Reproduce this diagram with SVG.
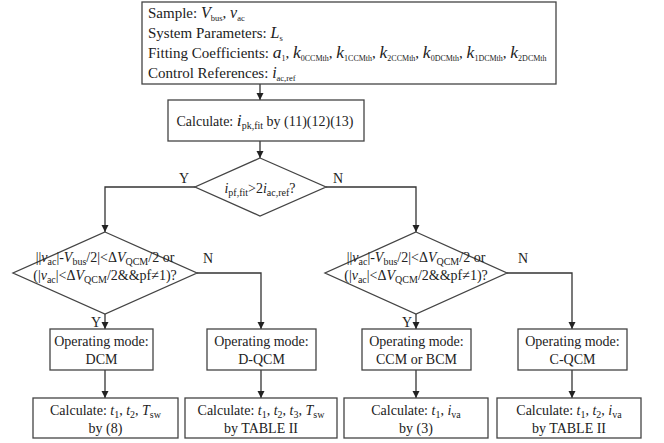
<svg xmlns="http://www.w3.org/2000/svg" width="664" height="443" viewBox="0 0 664 443">
<defs>
<marker id="ah" viewBox="0 0 10 10" refX="10" refY="5" markerWidth="7" markerHeight="8" markerUnits="userSpaceOnUse" orient="auto">
<path d="M0,0 L10,5 L0,10 Z" fill="#222"/>
</marker>
<style>
.box{fill:#fff;stroke:#444;stroke-width:1.3}
.t{font-family:"Liberation Serif","Times New Roman",serif;font-size:14px;fill:#222}
.h{font-size:15px}
.m{text-anchor:middle}
.i{font-style:italic}
.iv{font-size:16px}
.b{font-size:17.5px}
.s{font-size:10px}
.ss{font-size:8.5px}
.sx{font-size:8px}
.ca{fill:none;stroke:#333;stroke-width:1.3;marker-end:url(#ah)}
</style>
</defs>
<rect width="664" height="443" fill="#fff"/>

<g id="connectors">
<path class="ca" d="M260,84 V100"/>
<path class="ca" d="M260,141 V158"/>
<path class="ca" d="M195,187 H105 V232"/>
<path class="ca" d="M326,187 H416 V232"/>
<path class="ca" d="M197,273 H261 V329"/>
<path class="ca" d="M507,273 H572 V329"/>
<path class="ca" d="M105,314 V329"/>
<path class="ca" d="M416,314 V329"/>
<path class="ca" d="M105,370 V398"/>
<path class="ca" d="M261,370 V398"/>
<path class="ca" d="M416,370 V398"/>
<path class="ca" d="M572,370 V398"/>
<text class="t" x="179" y="183">Y</text>
<text class="t" x="333" y="183">N</text>
<text class="t" x="203" y="263">N</text>
<text class="t" x="518" y="263">N</text>
<text class="t" x="91" y="327">Y</text>
<text class="t" x="402" y="327">Y</text>
</g>

<g id="inputs">
<rect class="box" x="142" y="2" width="414" height="82"/>
<text class="t h" x="148" y="18">Sample: <tspan class="i iv">V</tspan><tspan class="ss" dy="3">bus</tspan><tspan dy="-3">, </tspan><tspan class="i iv">v</tspan><tspan class="ss" dy="3">ac</tspan></text>
<text class="t h" x="148" y="38">System Parameters: <tspan class="i iv">L</tspan><tspan class="ss" dy="3">s</tspan></text>
<text class="t h" x="148" y="58">Fitting Coefficients: <tspan class="i b">a</tspan><tspan class="sx" dy="3">1</tspan><tspan dy="-3">, </tspan><tspan class="i b">k</tspan><tspan class="sx" dy="3">0CCMth</tspan><tspan dy="-3">, </tspan><tspan class="i b">k</tspan><tspan class="sx" dy="3">1CCMth</tspan><tspan dy="-3">, </tspan><tspan class="i b">k</tspan><tspan class="sx" dy="3">2CCMth</tspan><tspan dy="-3">, </tspan><tspan class="i b">k</tspan><tspan class="sx" dy="3">0DCMth</tspan><tspan dy="-3">, </tspan><tspan class="i b">k</tspan><tspan class="sx" dy="3">1DCMth</tspan><tspan dy="-3">, </tspan><tspan class="i b">k</tspan><tspan class="sx" dy="3">2DCMth</tspan></text>
<text class="t h" x="148" y="78">Control References: <tspan class="i iv">i</tspan><tspan class="ss" dy="3">ac,ref</tspan></text>
</g>

<g id="calc-ipk">
<rect class="box" x="168" y="100" width="196" height="41"/>
<text class="t m" x="265" y="126">Calculate: <tspan class="i b">i</tspan><tspan class="s" dy="3">pk,fit</tspan><tspan dy="-3"> by (11)(12)(13)</tspan></text>
</g>

<g id="decision-ipf">
<polygon class="box" points="260,158 326,187 260,216 195,187"/>
<text class="t m" x="260" y="193"><tspan class="i">i</tspan><tspan class="s" dy="3">pf,fit</tspan><tspan dy="-3">&gt;2</tspan><tspan class="i">i</tspan><tspan class="s" dy="3">ac,ref</tspan><tspan dy="-3">?</tspan></text>
</g>

<g id="decision-left">
<polygon class="box" points="105,232 197,273 105,314 13,273"/>
<text class="t m" x="105" y="262">||<tspan class="i">v</tspan><tspan class="s" dy="3">ac</tspan><tspan dy="-3">|-</tspan><tspan class="i">V</tspan><tspan class="s" dy="3">bus</tspan><tspan dy="-3">/2|&lt;Δ</tspan><tspan class="i">V</tspan><tspan class="s" dy="3">QCM</tspan><tspan dy="-3">/2 or</tspan></text>
<text class="t m" x="105" y="280">(|<tspan class="i">v</tspan><tspan class="s" dy="3">ac</tspan><tspan dy="-3">|&lt;Δ</tspan><tspan class="i">V</tspan><tspan class="s" dy="3">QCM</tspan><tspan dy="-3">/2&amp;&amp;pf≠1)?</tspan></text>
</g>

<g id="decision-right">
<polygon class="box" points="416,232 507,273 416,314 325,273"/>
<text class="t m" x="416" y="262">||<tspan class="i">v</tspan><tspan class="s" dy="3">ac</tspan><tspan dy="-3">|-</tspan><tspan class="i">V</tspan><tspan class="s" dy="3">bus</tspan><tspan dy="-3">/2|&lt;Δ</tspan><tspan class="i">V</tspan><tspan class="s" dy="3">QCM</tspan><tspan dy="-3">/2 or</tspan></text>
<text class="t m" x="416" y="280">(|<tspan class="i">v</tspan><tspan class="s" dy="3">ac</tspan><tspan dy="-3">|&lt;Δ</tspan><tspan class="i">V</tspan><tspan class="s" dy="3">QCM</tspan><tspan dy="-3">/2&amp;&amp;pf≠1)?</tspan></text>
</g>

<g id="mode-dcm">
<rect class="box" x="50" y="329" width="103" height="41"/>
<text class="t m" x="101.5" y="346">Operating mode:</text>
<text class="t m" x="101.5" y="364">DCM</text>
</g>
<g id="mode-dqcm">
<rect class="box" x="207" y="329" width="109" height="41"/>
<text class="t m" x="261.5" y="346">Operating mode:</text>
<text class="t m" x="261.5" y="364">D-QCM</text>
</g>
<g id="mode-ccm">
<rect class="box" x="362" y="329" width="109" height="41"/>
<text class="t m" x="416.5" y="346">Operating mode:</text>
<text class="t m" x="416.5" y="364">CCM or BCM</text>
</g>
<g id="mode-cqcm">
<rect class="box" x="518" y="329" width="109" height="41"/>
<text class="t m" x="572.5" y="346">Operating mode:</text>
<text class="t m" x="572.5" y="364">C-QCM</text>
</g>

<g id="calc-dcm">
<rect class="box" x="33" y="398" width="145" height="40"/>
<text class="t m" x="105.5" y="415">Calculate: <tspan class="i">t</tspan><tspan class="s" dy="3">1</tspan><tspan dy="-3">, </tspan><tspan class="i">t</tspan><tspan class="s" dy="3">2</tspan><tspan dy="-3">, </tspan><tspan class="i">T</tspan><tspan class="s" dy="3">sw</tspan></text>
<text class="t m" x="105.5" y="433">by (8)</text>
</g>
<g id="calc-dqcm">
<rect class="box" x="185" y="398" width="152" height="40"/>
<text class="t m" x="261" y="415">Calculate: <tspan class="i">t</tspan><tspan class="s" dy="3">1</tspan><tspan dy="-3">, </tspan><tspan class="i">t</tspan><tspan class="s" dy="3">2</tspan><tspan dy="-3">, </tspan><tspan class="i">t</tspan><tspan class="s" dy="3">3</tspan><tspan dy="-3">, </tspan><tspan class="i">T</tspan><tspan class="s" dy="3">sw</tspan></text>
<text class="t m" x="261" y="433">by TABLE II</text>
</g>
<g id="calc-ccm">
<rect class="box" x="344" y="398" width="144" height="40"/>
<text class="t m" x="416" y="415">Calculate: <tspan class="i">t</tspan><tspan class="s" dy="3">1</tspan><tspan dy="-3">, </tspan><tspan class="i">i</tspan><tspan class="s" dy="3">va</tspan></text>
<text class="t m" x="416" y="433">by (3)</text>
</g>
<g id="calc-cqcm">
<rect class="box" x="497" y="398" width="144" height="40"/>
<text class="t m" x="569" y="415">Calculate: <tspan class="i">t</tspan><tspan class="s" dy="3">1</tspan><tspan dy="-3">, </tspan><tspan class="i">t</tspan><tspan class="s" dy="3">2</tspan><tspan dy="-3">, </tspan><tspan class="i">i</tspan><tspan class="s" dy="3">va</tspan></text>
<text class="t m" x="569" y="433">by TABLE II</text>
</g>
</svg>
